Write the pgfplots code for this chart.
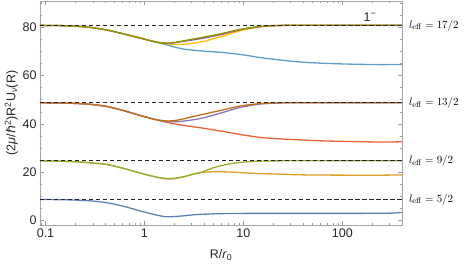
\documentclass[border=0pt]{standalone}
\usepackage[no-math]{fontspec}
\setmainfont{Liberation Sans}
\newfontfamily\dejavu{DejaVu Sans}
\usepackage{pgfplots}
\pgfplotsset{compat=1.18}
\usetikzlibrary{calc}
\definecolor{mA}{rgb}{0.368417,0.506779,0.709798}
\definecolor{mB}{rgb}{0.880722,0.611041,0.142051}
\definecolor{mC}{rgb}{0.560181,0.691569,0.194885}
\definecolor{mD}{rgb}{0.922526,0.385626,0.209179}
\definecolor{mE}{rgb}{0.528488,0.470624,0.701351}
\definecolor{mF}{rgb}{0.772079,0.431554,0.102387}
\definecolor{mG}{rgb}{0.363898,0.618501,0.782349}
\definecolor{mH}{rgb}{1,0.75,0}
\definecolor{mI}{rgb}{0.647624,0.37816,0.614037}
\definecolor{mJ}{rgb}{0.571589,0.586483,0}
\begin{document}
\begin{tikzpicture}
\begin{axis}[
  scale only axis, width=362pt, height=224pt,
  xmode=log, log basis x=10,
  xmin=0.088, xmax=400, ymin=-1.8, ymax=90.8,
  xtick={0.1,1,10,100}, xticklabels={0.1,1,10,100},
  minor xtick={0.09,0.2,0.3,0.4,0.5,0.6,0.7,0.8,0.9,2,3,4,5,6,7,8,9,20,30,40,50,60,70,80,90,200,300,400},
  ytick={0,20,40,60,80},
  minor ytick={5,10,15,25,30,35,45,50,55,65,70,75,85,90},
  tick align=inside, major tick length=4pt, minor tick length=2pt,
  axis line style={black!35}, every tick/.style={black!40},
  tick label style={font=\fontsize{12.5}{14}\selectfont, color=black!85},
  /pgf/number format/assume math mode=true,
  label style={font=\fontsize{12.5}{14}\selectfont, color=black!85},
  xlabel={R/\textit{r}\textsubscript{0}},
  ylabel={(2\textit{μ}/{\dejavu\itshape ℏ}\textsuperscript{2})R\textsuperscript{2}U\textsubscript{\textit{ν}}(R)},
  xlabel style={at={(axis description cs:0.5,-0.134)}, anchor=center},
  ylabel style={at={(axis description cs:-0.079,0.5)}, anchor=center},
  clip=false,
  every axis plot/.append style={line width=1.3pt, smooth, no marks},
]
% 5/2
\addplot[mA] coordinates {(0.088,8.75) (0.1,8.73) (0.15,8.65) (0.2,8.5) (0.283,8.2) (0.417,7.4) (0.615,5.95) (0.9,4.05) (1.33,2.3) (1.65,1.6) (2.0,1.7) (2.5,2.0) (3.1,2.4) (3.65,2.6) (5,2.8) (7.3,2.95) (11,3.0) (23.5,3.0) (60,3.0) (120,3.0) (250,3.05) (330,3.15) (400,3.4)};
% 9/2
\addplot[mB] coordinates {(0.088,24.75) (0.1,24.7) (0.15,24.55) (0.2,24.35) (0.283,23.9) (0.417,23.2) (0.615,21.6) (0.9,19.7) (1.33,17.95) (1.7,17.2) (2.0,17.35) (2.5,18.1) (3.1,19.2) (3.65,19.9) (5,20.2) (7.3,20.1) (10.8,19.7) (23.5,19.2) (37,18.95) (60,18.85) (120,18.8) (250,18.8) (400,18.9)};
\addplot[mC] coordinates {(0.088,24.75) (0.1,24.7) (0.15,24.55) (0.2,24.35) (0.283,23.9) (0.417,23.2) (0.615,21.6) (0.9,19.7) (1.33,18.0) (1.7,17.4) (2.0,17.5) (2.5,18.2) (3.1,19.2) (3.65,19.8) (5,21.9) (7.3,23.5) (10.8,24.3) (14.8,24.6) (23.5,24.72) (37,24.75) (400,24.75)};
% 13/2
\addplot[mD] coordinates {(0.088,48.75) (0.1,48.7) (0.15,48.6) (0.2,48.45) (0.283,48.1) (0.417,47.2) (0.615,45.5) (0.9,43.5) (1.33,41.6) (1.8,40.4) (2.3,39.6) (3.65,38.4) (5.8,37.1) (9.3,35.6) (14.8,34.4) (23.5,33.8) (37,33.4) (60,33.0) (120,32.7) (250,32.5) (400,32.6)};
\addplot[mE] coordinates {(0.088,48.75) (0.1,48.7) (0.15,48.6) (0.2,48.45) (0.283,48.1) (0.417,47.2) (0.615,45.5) (0.9,43.5) (1.33,41.7) (1.8,40.9) (2.3,41.0) (3.65,42.2) (5.8,44.4) (9.3,46.8) (14.8,48.2) (23.5,48.65) (37,48.75) (400,48.75)};
\addplot[mF] coordinates {(0.088,48.75) (0.1,48.7) (0.15,48.6) (0.2,48.45) (0.283,48.1) (0.417,47.2) (0.615,45.5) (0.9,43.5) (1.33,41.7) (1.8,41.2) (2.3,41.8) (3.65,43.7) (5.8,45.5) (9.3,47.4) (14.8,48.4) (23.5,48.7) (37,48.75) (400,48.75)};
% 17/2
\addplot[mG] coordinates {(0.088,80.75) (0.1,80.7) (0.15,80.6) (0.2,80.4) (0.283,79.9) (0.417,78.8) (0.615,77.2) (0.9,75.5) (1.33,73.7) (1.6,72.9) (2.0,71.8) (2.5,70.9) (3.65,70.2) (5.8,69.6) (9.3,68.7) (14.8,67.4) (23.5,66.4) (37,65.6) (60,65.1) (120,64.7) (250,64.5) (400,64.6)};
\addplot[mH] coordinates {(0.088,80.75) (0.1,80.7) (0.15,80.6) (0.2,80.4) (0.283,79.9) (0.417,78.8) (0.615,77.2) (0.9,75.5) (1.33,73.8) (1.8,73.0) (2.3,72.8) (3.65,73.8) (5.8,75.9) (9.3,78.5) (14.8,80.1) (23.5,80.65) (37,80.75) (400,80.75)};
\addplot[mI] coordinates {(0.088,80.75) (0.1,80.7) (0.15,80.6) (0.2,80.4) (0.283,79.9) (0.417,78.8) (0.615,77.2) (0.9,75.5) (1.33,73.8) (1.8,73.3) (2.3,73.9) (3.65,75.2) (5.8,76.8) (9.3,78.9) (14.8,80.2) (23.5,80.7) (37,80.75) (400,80.75)};
\addplot[mJ] coordinates {(0.088,80.75) (0.1,80.7) (0.15,80.6) (0.2,80.4) (0.283,79.9) (0.417,78.8) (0.615,77.2) (0.9,75.5) (1.33,73.8) (1.8,73.4) (2.3,74.1) (3.65,75.6) (5.8,77.2) (9.3,79.1) (14.8,80.3) (23.5,80.7) (37,80.75) (400,80.75)};
% asymptotes
\addplot[black!85, line width=1.2pt, dash pattern=on 4.5pt off 2.5pt, sharp plot] coordinates {(0.088,80.75) (400,80.75)};
\addplot[black!85, line width=1.2pt, dash pattern=on 4.5pt off 2.5pt, sharp plot] coordinates {(0.088,48.75) (400,48.75)};
\addplot[black!85, line width=1.2pt, dash pattern=on 4.5pt off 2.5pt, sharp plot] coordinates {(0.088,24.75) (400,24.75)};
\addplot[black!85, line width=1.2pt, dash pattern=on 4.5pt off 2.5pt, sharp plot] coordinates {(0.088,8.75) (400,8.75)};
\node[anchor=west, font=\fontsize{11.3}{13}\selectfont] at (axis cs:400,80.75) [xshift=3.5pt] {$l_{\mathrm{eff}} = 17/2$};
\node[anchor=west, font=\fontsize{11.3}{13}\selectfont] at (axis cs:400,48.75) [xshift=3.5pt] {$l_{\mathrm{eff}} = 13/2$};
\node[anchor=west, font=\fontsize{11.3}{13}\selectfont] at (axis cs:400,24.75) [xshift=3.5pt] {$l_{\mathrm{eff}} = 9/2$};
\node[anchor=west, font=\fontsize{11.3}{13}\selectfont] at (axis cs:400,8.75) [xshift=3.5pt] {$l_{\mathrm{eff}} = 5/2$};
\node[font=\fontsize{12.5}{14}\selectfont, color=black!85] at (axis cs:190,84.3) {1\textsuperscript{−}};
\end{axis}
\path ($(current axis.south west)+(-40pt,-38pt)$) rectangle ($(current axis.north east)+(67pt,1pt)$);
\end{tikzpicture}
\end{document}
